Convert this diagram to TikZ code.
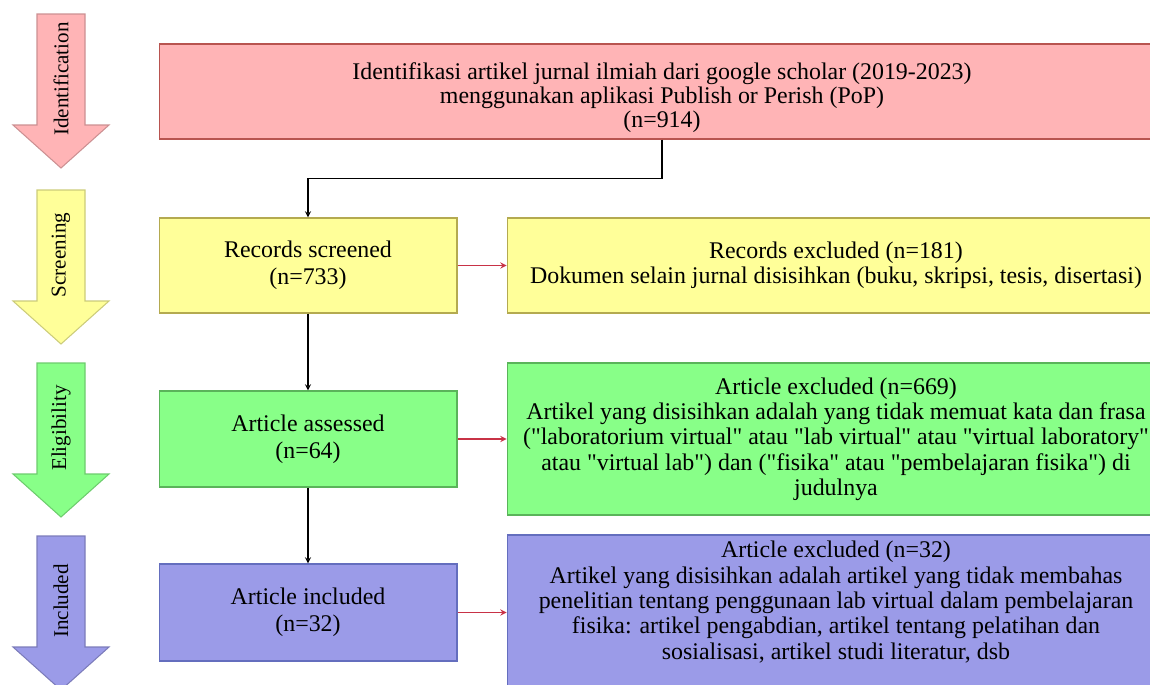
\documentclass[tikz,border=0pt]{standalone}
\usepackage{fontspec}
\setmainfont{Liberation Serif}
\usetikzlibrary{calc}
\definecolor{pinkfill}{RGB}{255,180,182}
\definecolor{pinkdraw}{RGB}{184,84,80}
\definecolor{yellowfill}{RGB}{255,255,153}
\definecolor{yellowdraw}{RGB}{180,170,80}
\definecolor{greenfill}{RGB}{136,255,136}
\definecolor{greendraw}{RGB}{90,180,90}
\definecolor{purplefill}{RGB}{155,155,232}
\definecolor{purpledraw}{RGB}{100,110,190}
\definecolor{redline}{RGB}{200,50,70}
\newcommand\qt[1]{\textquotedbl#1\textquotedbl}
\newcommand\stagearrow[4]{
    \def\ytop{#1}
    \def\h{111}
    \draw[draw=#4!80!black, fill=#4, line width=0.6pt] (37,\ytop) -- (85,\ytop)
        -- (85,{\ytop+\h}) -- (109,{\ytop+\h}) -- (61,{\ytop+\h+43})
        -- (13,{\ytop+\h}) -- (37,{\ytop+\h}) -- cycle;
    \node[rotate=90, font=\fontsize{12}{14}\selectfont] (#3) at (61,{\ytop+65}) {#2};
}

\begin{document}
\begin{tikzpicture}[x=0.02cm, y=-0.02cm,
        box/.style={draw, line width=0.6pt, minimum height=1.9cm, align=center,
            font=\fontsize{13.6}{14.4}\selectfont, inner sep=2pt},
        leftbox/.style={box, minimum width=5.96cm, font=\fontsize{13.6}{15.4}\selectfont},
        rightbox/.style={box, minimum width=13.16cm},
        conn/.style={->, >=stealth, line width=0.6pt},
        exc/.style={->, >=stealth, line width=0.6pt, redline}
    ]
    \useasboundingbox (0,0) rectangle (1150,684);
    \clip (0,0) rectangle (1150,684);

    \stagearrow{14}{Identification}{stageid}{pinkfill}
    \stagearrow{190}{Screening}{stagescr}{yellowfill}
    \stagearrow{363}{Eligibility}{stageelig}{greenfill}
    \stagearrow{536}{Included}{stageinc}{purplefill}

    \node[box, fill=pinkfill, draw=pinkdraw, minimum width=20.12cm,
        font=\fontsize{13.6}{13.4}\selectfont] (ident) at (662,91.5)
        {\rule{0pt}{16.5pt}Identifikasi artikel jurnal ilmiah dari google scholar (2019-2023)\\
        menggunakan aplikasi Publish or Perish (PoP)\\(n=914)};

    \node[leftbox, fill=yellowfill, draw=yellowdraw] (screened) at (308,265.5)
        {Records screened\\(n=733)};
    \node[rightbox, fill=yellowfill, draw=yellowdraw] (recex) at (836,265.5)
        {Records excluded (n=181)\\
        Dokumen selain jurnal disisihkan (buku, skripsi, tesis, disertasi)};

    \node[leftbox, fill=greenfill, draw=greendraw, minimum height=1.92cm] (assessed) at (308,439)
        {Article assessed\\(n=64)};
    \node[rightbox, fill=greenfill, draw=greendraw, minimum height=3.04cm] (artex) at (836,439)
        {Article excluded (n=669)\\
        Artikel yang disisihkan adalah yang tidak memuat kata dan frasa\\
        (\qt{laboratorium virtual} atau \qt{lab virtual} atau \qt{virtual laboratory}\\
        atau \qt{virtual lab}) dan (\qt{fisika} atau \qt{pembelajaran fisika}) di\\
        judulnya};

    \node[leftbox, fill=purplefill, draw=purpledraw, minimum height=1.94cm] (included) at (308,612.5)
        {Article included\\(n=32)};
    \node[rightbox, fill=purplefill, draw=purpledraw, minimum height=3.1cm, text depth=14pt] (incex) at (836,612.5)
        {Article excluded (n=32)\\
        Artikel yang disisihkan adalah artikel yang tidak membahas\\
        penelitian tentang penggunaan lab virtual dalam pembelajaran\\
        fisika: artikel pengabdian, artikel tentang pelatihan dan\\
        sosialisasi, artikel studi literatur, dsb};

    \draw[conn] (ident.south) -- ++(0,39) -| (screened.north);
    \draw[conn] (screened) -- (assessed);
    \draw[conn] (assessed) -- (included);
    \draw[exc] (screened) -- (recex);
    \draw[exc] (assessed) -- (artex);
    \draw[exc] (included) -- (incex);
\end{tikzpicture}
\end{document}
